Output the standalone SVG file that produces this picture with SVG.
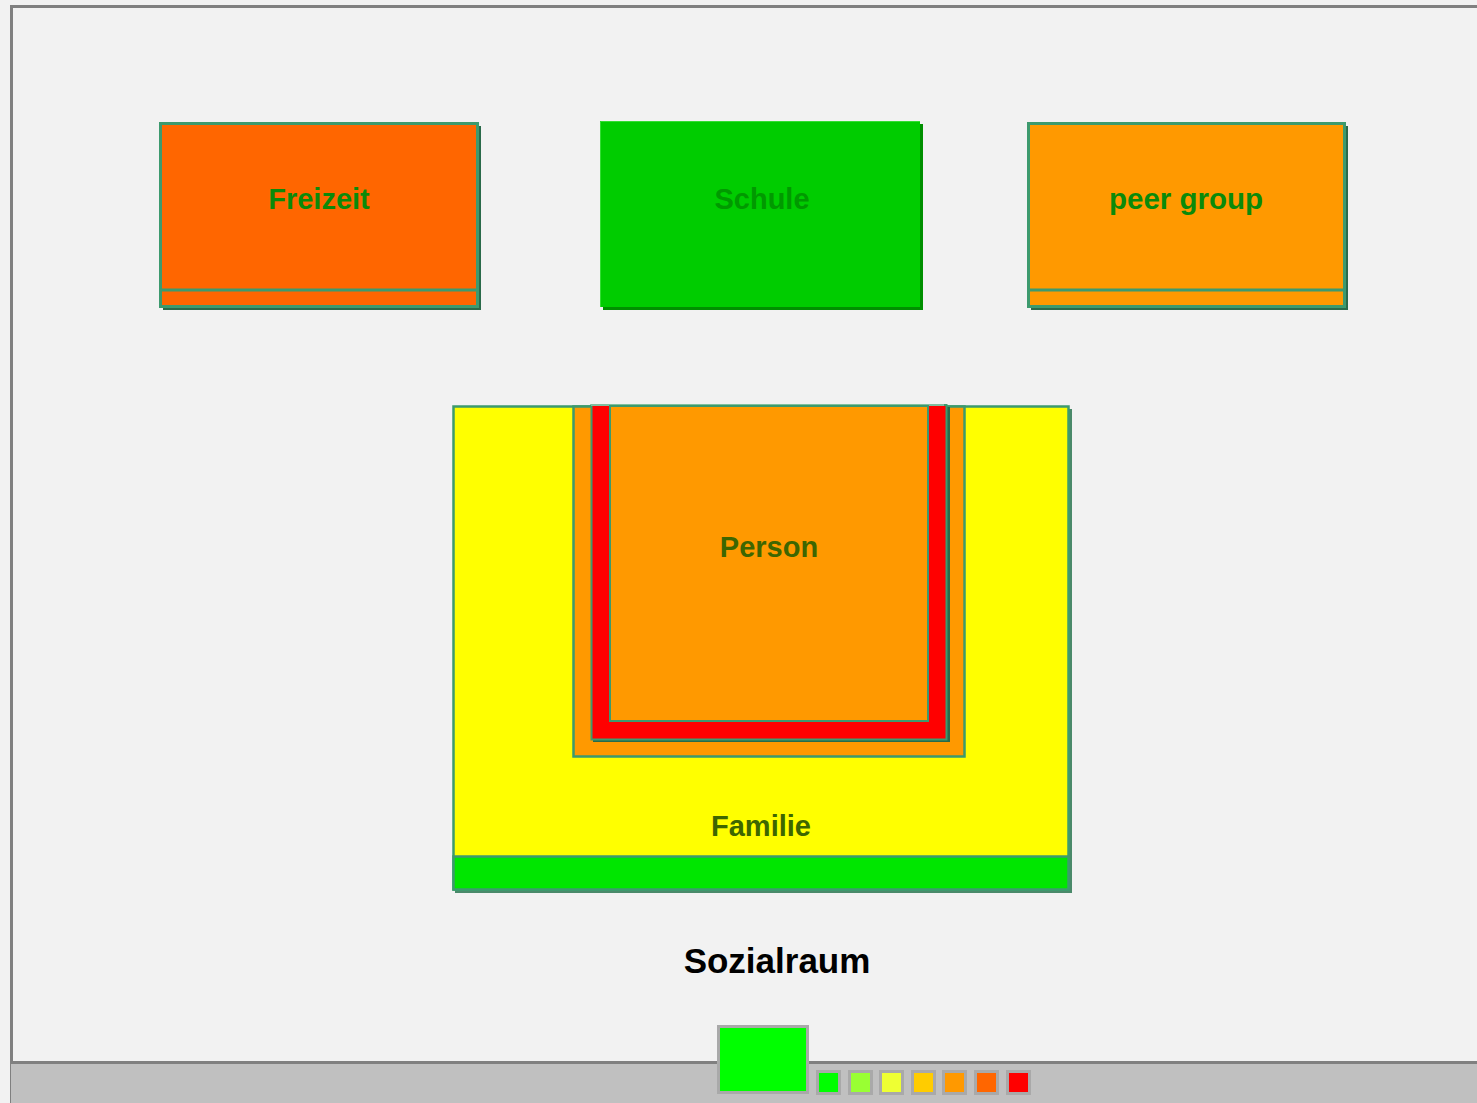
<svg xmlns="http://www.w3.org/2000/svg" width="1477" height="1103" viewBox="0 0 1477 1103">
<style>
.lbl{font-family:"Liberation Sans",Arial,sans-serif;font-weight:bold;text-anchor:middle}
.bx{stroke:#3d9a6e;stroke-width:3}
.sh{fill:#2a6a4a}
.sw{stroke:#a9a9a9;stroke-width:3}
</style>
<rect x="0" y="0" width="1477" height="1103" fill="#f2f2f2"/>
<g id="frame">
<rect x="11.5" y="6.5" width="1470" height="1100" fill="none" stroke="#808080" stroke-width="3"/>
<rect x="11" y="1062" width="1466" height="41" fill="#c0c0c0"/>
<line x1="11" y1="1062.5" x2="1477" y2="1062.5" stroke="#808080" stroke-width="3"/>
</g>
<g id="freizeit">
<rect class="sh" x="163" y="126" width="318" height="184"/>
<rect class="bx" x="160.5" y="123.5" width="317" height="183" fill="#ff6600"/>
<line class="bx" x1="160" y1="290" x2="478" y2="290"/>
<text class="lbl" x="319" y="209" font-size="29" fill="#0a8a0a">Freizeit</text>
</g>
<g id="schule">
<rect x="603" y="124" width="320" height="186" fill="#009000"/>
<rect x="600" y="121" width="320" height="186" fill="#00cc00"/>
<path d="M600.5 307 V121.5 H920" fill="none" stroke="#33dd33" stroke-width="1"/>
<text class="lbl" x="762" y="209" font-size="29" fill="#009900">Schule</text>
</g>
<g id="peergroup">
<rect class="sh" x="1031" y="126" width="317" height="184"/>
<rect class="bx" x="1028.5" y="123.5" width="316" height="183" fill="#ff9900"/>
<line class="bx" x1="1028" y1="290" x2="1345" y2="290"/>
<text class="lbl" x="1186" y="209" font-size="29.5" fill="#0a8a0a">peer group</text>
</g>
<g id="familie">
<rect x="455" y="409" width="617" height="484" fill="#4a8a6a"/>
<rect x="453.5" y="406.5" width="615" height="483" fill="#ffff00" stroke="#3d9a6e" stroke-width="2.5"/>
<rect x="453.5" y="856.5" width="615" height="33" fill="#00e600" stroke="#3d9a6e" stroke-width="2.5"/>
<text class="lbl" x="761" y="836" font-size="29" fill="#3d6600">Familie</text>
</g>
<g id="inner">
<rect x="573.5" y="406.5" width="391" height="350" fill="#ff9900" stroke="#3d9a6e" stroke-width="2.5"/>
</g>
<g id="person">
<rect x="593" y="407" width="357" height="335" fill="#2a6a4a"/>
<rect x="591.5" y="405" width="355" height="334.5" fill="#ff0000" stroke="#3d9a6e" stroke-width="2"/>
<line x1="591" y1="405" x2="944" y2="405" stroke="#7fbf9f" stroke-width="2"/>
<rect x="610" y="406" width="318" height="315" fill="#ff9900" stroke="#3d9a6e" stroke-width="2"/>
<text class="lbl" x="769" y="557" font-size="29" fill="#3d6600">Person</text>
</g>
<text class="lbl" x="777" y="973" font-size="35" fill="#000000">Sozialraum</text>
<g id="legend">
<rect class="sw" x="718.5" y="1026.5" width="89" height="66" fill="#00ff00"/>
<rect class="sw" x="817.5" y="1071.5" width="22" height="22" fill="#00ff00"/>
<rect class="sw" x="849.5" y="1071.5" width="22" height="22" fill="#99ff33"/>
<rect class="sw" x="880.5" y="1071.5" width="22" height="22" fill="#eeff33"/>
<rect class="sw" x="912.5" y="1071.5" width="22" height="22" fill="#ffcc00"/>
<rect class="sw" x="943.5" y="1071.5" width="22" height="22" fill="#ff9900"/>
<rect class="sw" x="975.5" y="1071.5" width="22" height="22" fill="#ff6600"/>
<rect class="sw" x="1007.5" y="1071.5" width="22" height="22" fill="#ff0000"/>
</g>
<g id="connectors"/>
</svg>
